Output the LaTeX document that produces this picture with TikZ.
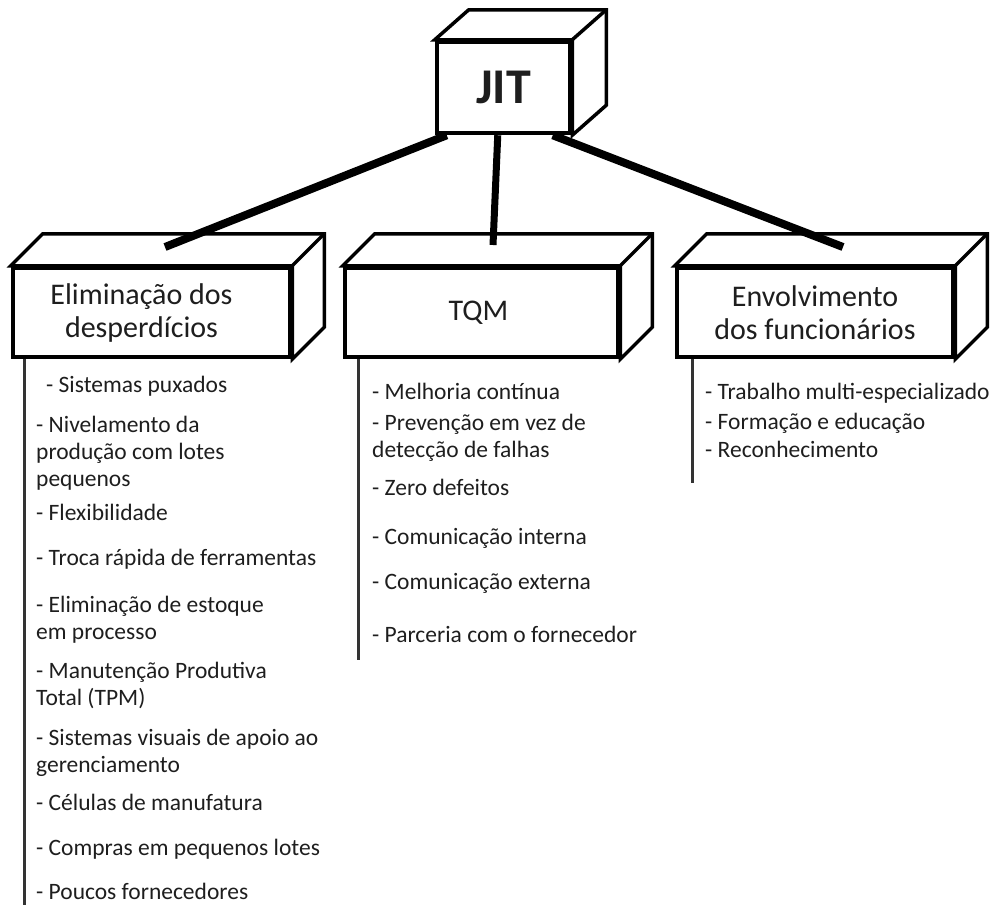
\documentclass[tikz,border=0pt]{standalone}
\usepackage{fontspec}
\setmainfont{Carlito}
\usetikzlibrary{calc}
\definecolor{txt}{HTML}{1E1E1E}
\definecolor{lg}{HTML}{333333}
\begin{document}
\begin{tikzpicture}[x=1pt,y=-1pt,
  front/.style={draw, line width=4.5pt, fill=white, inner sep=0pt, align=center, text=txt,
                font=\fontsize{30}{33}\selectfont},
  face/.style={draw, line width=3.5pt, fill=white, line join=miter},
  conn/.style={line width=8pt},
  vline/.style={line width=3pt, draw=lg},
  item/.style={anchor=base west, inner sep=0pt, align=left, text=txt,
               font=\fontsize{23.5}{27}\selectfont}]
\useasboundingbox (0,0) rectangle (1006,922);

% ---------- JIT box ----------
\node[front, minimum width=133pt, minimum height=91pt,
      font=\bfseries\fontsize{50}{50}\selectfont] (jit) at (503.5,87.5) {\raisebox{-10pt}{JIT}};
\draw[face] (jit.north west) -- ++(34,-30) -- ($(jit.north east)+(34,-30)$)
  -- ($(jit.south east)+(34,-30)$) -- (jit.south east) -- (jit.north east) -- cycle;
\draw[face] (jit.north east) -- ++(34,-30);

% ---------- lower boxes ----------
\node[front, minimum width=277pt, minimum height=89pt] (elim) at (151.5,312.5) {};
\node[front, minimum width=273pt, minimum height=89pt] (tqm) at (481.5,312.5) {};
\node[front, minimum width=276pt, minimum height=89pt] (env) at (815,312.5) {};
\foreach \b in {elim,tqm,env}{
  \draw[face] (\b.north west) -- ++(32,-32) -- ($(\b.north east)+(32,-32)$)
    -- ($(\b.south east)+(32,-32)$) -- (\b.south east) -- (\b.north east) -- cycle;
  \draw[face] (\b.north east) -- ++(32,-32);
}
\node[front, minimum width=277pt, minimum height=89pt] at (elim)
  {\hspace*{-20pt}Eliminação dos\\\hspace*{-20pt}desperdícios};
\node[front, minimum width=273pt, minimum height=89pt] at (tqm) {\hspace*{-6pt}TQM};
\node[front, minimum width=276pt, minimum height=89pt] at (env) {Envolvimento\\dos funcionários};
\node[front, minimum width=133pt, minimum height=91pt,
      font=\bfseries\fontsize{50}{50}\selectfont] at (jit) {\raisebox{-10pt}{JIT}};

% ---------- connectors ----------
\coordinate (elimtop) at (165,247);
\coordinate (tqmtop) at (493,245);
\coordinate (envtop) at (843,247);
\draw[conn] ([xshift=12pt]jit.south west) -- (elimtop);
\draw[conn, line width=7pt] ([xshift=63pt]jit.south west) -- (tqmtop);
\draw[conn] ([xshift=118pt]jit.south west) -- (envtop);

% ---------- vertical lines ----------
\coordinate (elimend) at (24,905);
\coordinate (tqmend) at (358,660);
\coordinate (envend) at (692,483);
\draw[vline] (elimend |- elim.south) -- (elimend);
\draw[vline] (tqmend |- tqm.south) -- (tqmend);
\draw[vline] (envend |- env.south) -- (envend);

% ---------- left list (base = last line) ----------
\node[item] (l1) at (46,392) {- Sistemas puxados};
\node[item] (l2) at (36,486) {- Nivelamento da\\produção com lotes\\pequenos};
\node[item] (l3) at (36,520) {- Flexibilidade};
\node[item] (l4) at (36,565) {- Troca rápida de ferramentas};
\node[item] (l5) at (36,639) {- Eliminação de estoque\\em processo};
\node[item] (l6) at (36,705) {- Manutenção Produtiva\\Total (TPM)};
\node[item] (l7) at (36,772) {- Sistemas visuais de apoio ao\\gerenciamento};
\node[item] (l8) at (36,810) {- Células de manufatura};
\node[item] (l9) at (36,855) {- Compras em pequenos lotes};
\node[item] (l10) at (36,899) {- Poucos fornecedores};

% ---------- middle list ----------
\node[item] (m1) at (372,399) {- Melhoria contínua};
\node[item] (m2) at (372,457) {- Prevenção em vez de\\detecção de falhas};
\node[item] (m3) at (372,495) {- Zero defeitos};
\node[item] (m4) at (372,544) {- Comunicação interna};
\node[item] (m5) at (372,589) {- Comunicação externa};
\node[item] (m6) at (372,642) {- Parceria com o fornecedor};

% ---------- right list ----------
\node[item] (r1) at (705,399) {- Trabalho multi-especializado};
\node[item] (r2) at (705,429) {- Formação e educação};
\node[item] (r3) at (705,457) {- Reconhecimento};
\end{tikzpicture}
\end{document}
